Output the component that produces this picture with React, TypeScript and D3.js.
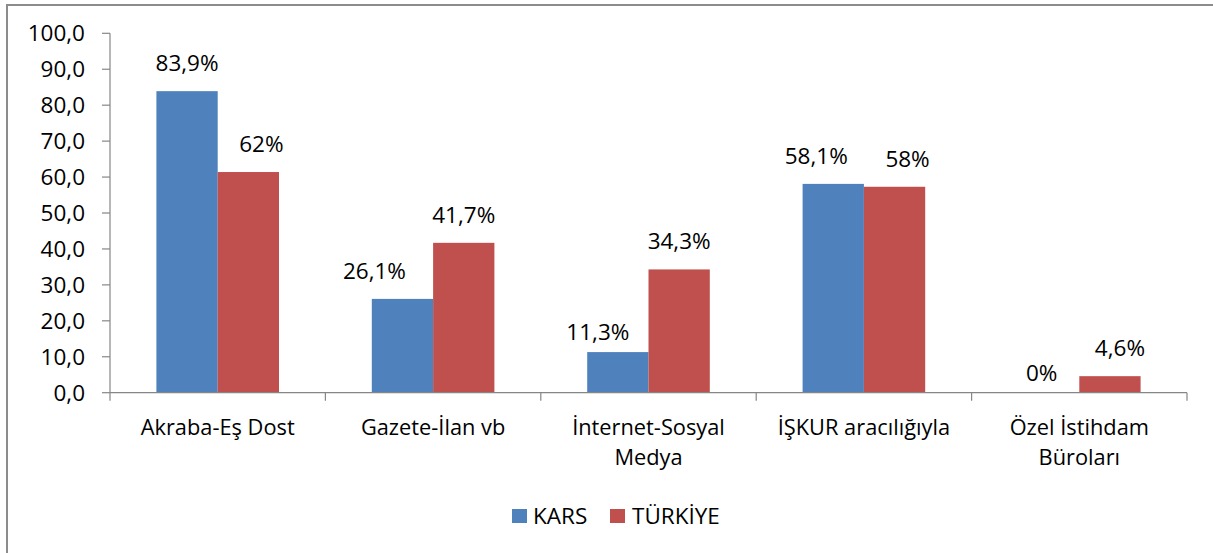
import React from "react";
import * as d3 from "d3";

const categories: string[][] = [
  ["Akraba-Eş Dost"],
  ["Gazete-İlan vb"],
  ["İnternet-Sosyal", "Medya"],
  ["İŞKUR aracılığıyla"],
  ["Özel İstihdam", "Büroları"],
];
const seriesNames = ["KARS", "TÜRKİYE"];
const karsValues = [83.9, 26.1, 11.3, 58.1, 0];
const turkiyeValues = [61.4, 41.7, 34.3, 57.3, 4.6];
const karsLabels = ["83,9%", "26,1%", "11,3%", "58,1%", "0%"];
const turkiyeLabels = ["62%", "41,7%", "34,3%", "58%", "4,6%"];
const yTicks = [0, 10, 20, 30, 40, 50, 60, 70, 80, 90, 100];

const COLORS = ["#4F81BD", "#C0504D"];
// manual label nudges (layout, not data)
const NUDGE = [
  [[0, 0], [-28, 0], [-20, 8], [-17, 0], [-7, 8]],
  [[13, 0], [0, 0], [0, 0], [13, 0], [10, 0]],
];

const W = 1213;
const H = 553;
const FONT = "'Open Sans', 'Noto Sans', sans-serif";
const FS = 22.5;
const CAT_FS = 21.8;
const AXIS = "#868686";

export default function App() {
  const left = 110;
  const right = 1187;
  const y = d3.scaleLinear().domain([0, 100]).range([392.7, 33.3]);
  const keys = categories.map((c) => c.join(" "));
  const x = d3.scaleBand<string>().domain(keys).range([left, right]).padding(0);
  const inner = d3
    .scaleBand<string>()
    .domain(seriesNames)
    .range([0, x.bandwidth()])
    .paddingInner(0)
    .paddingOuter(0.757);
  const series = [
    { name: seriesNames[0], values: karsValues, labels: karsLabels },
    { name: seriesNames[1], values: turkiyeValues, labels: turkiyeLabels },
  ];
  const y0 = y(0);
  const boundaries = keys.map((k) => x(k) as number).concat([right]);

  return (
    <svg
      width={W}
      height={H}
      style={{ position: "absolute", left: 0, top: 0, background: "#fff" }}
      fontFamily={FONT}
    >
      <rect x={7} y={5} width={1260} height={620} fill="#fff" stroke="#8c8c8c" strokeWidth={2} />
      {/* y axis */}
      <line x1={left} x2={left} y1={y(100)} y2={y0} stroke={AXIS} strokeWidth={1.2} />
      {yTicks.map((t) => (
        <g key={t}>
          <line x1={left - 8} x2={left} y1={y(t)} y2={y(t)} stroke={AXIS} strokeWidth={1.2} />
          <text
            x={85}
            y={y(t)}
            dy="0.35em"
            textAnchor="end"
            fontSize={FS}
            fill="#000"
          >
            {d3.format(".1f")(t).replace(".", ",")}
          </text>
        </g>
      ))}
      {/* bars */}
      {series.map((s, si) =>
        s.values.map((v, i) => {
          const bx = (x(keys[i]) as number) + (inner(s.name) as number);
          const by = y(v);
          return (
            <rect
              key={`${si}-${i}`}
              x={bx}
              y={by}
              width={inner.bandwidth()}
              height={y0 - by}
              fill={COLORS[si]}
            />
          );
        })
      )}
      {/* x axis */}
      <line x1={left} x2={right} y1={y0} y2={y0} stroke={AXIS} strokeWidth={1.2} />
      {boundaries.map((b, i) => (
        <line key={i} x1={b} x2={b} y1={y0} y2={y0 + 8} stroke={AXIS} strokeWidth={1.2} />
      ))}
      {/* data labels */}
      {series.map((s, si) =>
        s.values.map((v, i) => {
          const cx =
            (x(keys[i]) as number) + (inner(s.name) as number) + inner.bandwidth() / 2;
          return (
            <text
              key={`l${si}-${i}`}
              x={cx + NUDGE[si][i][0]}
              y={y(v) - 20 + NUDGE[si][i][1]}
              textAnchor="middle"
              fontSize={FS}
              fill="#000"
            >
              {s.labels[i]}
            </text>
          );
        })
      )}
      {/* category labels */}
      {categories.map((lines, i) =>
        lines.map((ln, j) => (
          <text
            key={`c${i}-${j}`}
            x={(x(keys[i]) as number) + x.bandwidth() / 2}
            y={435 + j * 30}
            textAnchor="middle"
            fontSize={CAT_FS}
            fill="#000"
          >
            {ln}
          </text>
        ))
      )}
      {/* legend */}
      <rect x={512} y={509} width={15} height={14} fill={COLORS[0]} />
      <text x={533} y={523.5} fontSize={FS} fill="#000">
        {seriesNames[0]}
      </text>
      <rect x={610} y={509} width={15} height={14} fill={COLORS[1]} />
      <text x={632} y={523.5} fontSize={FS} fill="#000">
        {seriesNames[1]}
      </text>
    </svg>
  );
}
